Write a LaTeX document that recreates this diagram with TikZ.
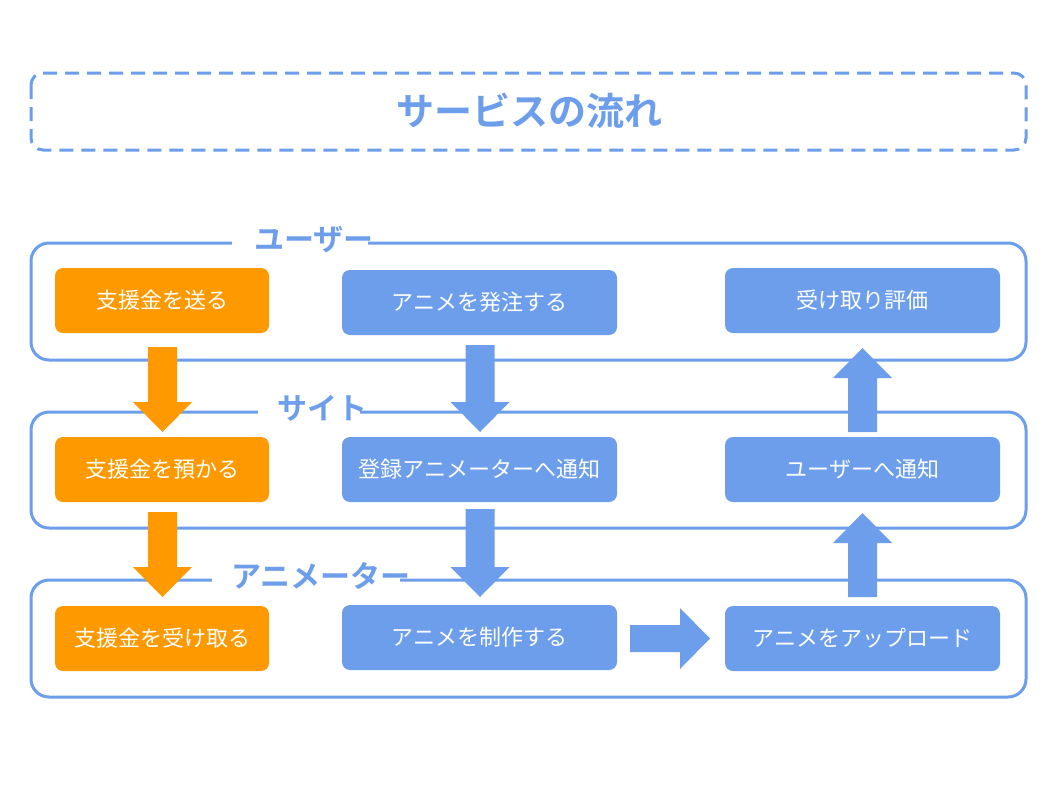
\documentclass[tikz,border=0pt]{standalone}
\usepackage{fontspec}
\newfontfamily\jp[BoldFont={Noto Sans CJK JP Bold}]{Noto Sans CJK JP}
\definecolor{blu}{HTML}{6D9EEB}
\definecolor{orng}{HTML}{FF9900}
\newcommand\VArrow[5]{\fill[#5] (#1-14.5,#2) -- (#1+14.5,#2) -- (#1+14.5,#3) -- (#1+29.5,#3) -- (#1,#4) -- (#1-29.5,#3) -- (#1-14.5,#3) -- cycle;}
\begin{document}
\begin{tikzpicture}[x=1pt,y=-1pt,
  box/.style={rounded corners=8pt, minimum height=65pt, inner sep=0pt, text=white, font=\jp\fontsize{22}{26}\selectfont},
  obox/.style={box, fill=orng, minimum width=214pt},
  bbox/.style={box, fill=blu, minimum width=275pt},
  lane/.style={draw=blu, line width=3pt, rounded corners=18pt},
  lanelabel/.style={anchor=west, inner sep=0pt, text=blu, font=\jp\bfseries\fontsize{30}{32}\selectfont}]
\useasboundingbox[fill=white] (0,0) rectangle (1057,793);
% title
\draw[blu, line width=3pt, dash pattern=on 14pt off 8pt, rounded corners=12pt] (31,73) rectangle (1026,150);
\node[text=blu, font=\jp\bfseries\fontsize{38}{42}\selectfont, inner sep=0pt] (title) at (529,111) {サービスの流れ};
% lanes
\draw[lane] (31,243) rectangle (1026,360);
\draw[lane] (31,412) rectangle (1026,528);
\draw[lane] (31,580) rectangle (1026,697);
\fill[white] (232,233) rectangle (368,253);
\fill[white] (258,402) rectangle (360,422);
\fill[white] (212,570) rectangle (400,590);
\node[lanelabel] (l1) at (254,240) {ユーザー};
\node[lanelabel] (l2) at (277,408) {サイト};
\node[lanelabel] (l3) at (231,576) {アニメーター};
% boxes
\node[obox] (o1) at (162,300.5) {支援金を送る};
\node[obox] (o2) at (162,469.5) {支援金を預かる};
\node[obox] (o3) at (162,638.5) {支援金を受け取る};
\node[bbox] (b1) at (479.5,302.5) {アニメを発注する};
\node[bbox] (b2) at (479.5,469.5) {登録アニメーターへ通知};
\node[bbox] (b3) at (479.5,637.5) {アニメを制作する};
\node[bbox] (c1) at (862.5,300.5) {受け取り評価};
\node[bbox] (c2) at (862.5,469.5) {ユーザーへ通知};
\node[bbox] (c3) at (862.5,638.5) {アニメをアップロード};
% block arrows
\VArrow{162.5}{347}{402}{432}{orng}
\VArrow{162.5}{512}{567}{597}{orng}
\VArrow{480}{345}{402}{432}{blu}
\VArrow{480}{509}{567}{597}{blu}
\VArrow{862.5}{432}{378}{348}{blu}
\VArrow{862.5}{597}{543}{513}{blu}
\fill[blu] (630,625) -- (680,625) -- (680,608) -- (710,638.5) -- (680,669) -- (680,652) -- (630,652) -- cycle;
\end{tikzpicture}
\end{document}
